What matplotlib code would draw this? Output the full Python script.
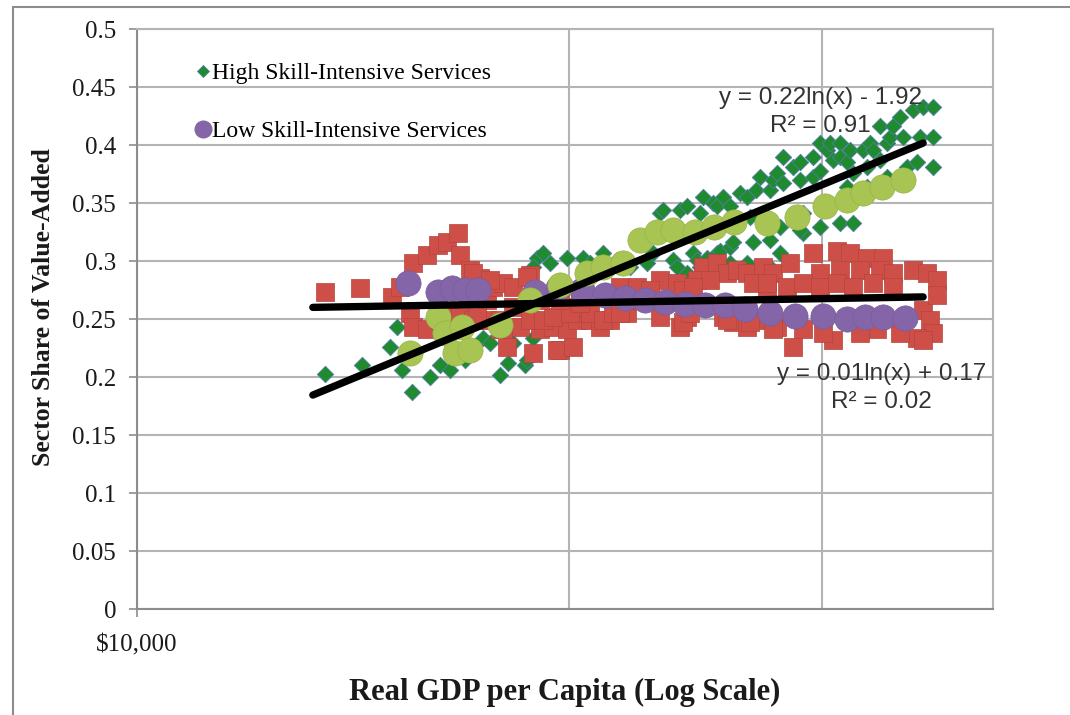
import numpy as np
import matplotlib.pyplot as plt
from matplotlib.lines import Line2D
from matplotlib.patches import Rectangle

# High skill-intensive services (green diamonds)
hs_gdp = [13520, 14350, 15010, 15180, 15300, 15550, 16000, 16260, 16530, 16930,
          17420, 17620, 17910, 18140, 18640, 18290, 18880, 18700, 19000, 19190,
          19400, 19940, 20460, 20690, 21130, 21610, 22060, 18880, 22670, 22890,
          23150, 23260, 23640, 23790, 23910, 24180, 24180, 24410, 24570, 24690,
          24690, 24810, 24970, 25210, 25210, 25370, 25370, 25490, 25610, 25900,
          25900, 25900, 26030, 26320, 26620, 26620, 26750, 26880, 27010, 27180,
          27310, 27490, 27620, 27620, 27620, 27750, 27930, 28070, 28210, 28210,
          28660, 28990, 28990, 29130, 29130, 29600, 29600, 29930, 29930, 29930,
          30270, 30420, 30570, 30910, 30910, 30910, 31260, 31260, 31410, 31560,
          31560, 32080, 32280, 32280, 32430, 32590, 32960, 32960, 33330, 33330,
          33490, 33650, 34030, 34200, 34410, 34750, 34970, 35140, 35310, 35880,
          35880, 35880, 28990, 28070]
hs_share = [0.203, 0.210, 0.226, 0.243, 0.206, 0.187, 0.200, 0.210, 0.206, 0.215,
            0.234, 0.229, 0.202, 0.212, 0.210, 0.229, 0.234, 0.215, 0.303, 0.307,
            0.298, 0.303, 0.303, 0.298, 0.307, 0.301, 0.295, 0.295, 0.298, 0.307,
            0.341, 0.344, 0.301, 0.295, 0.344, 0.347, 0.290, 0.307, 0.301, 0.341,
            0.295, 0.355, 0.303, 0.350, 0.295, 0.347, 0.307, 0.309, 0.355, 0.347,
            0.312, 0.298, 0.316, 0.359, 0.298, 0.355, 0.338, 0.316, 0.361, 0.372,
            0.341, 0.329, 0.361, 0.318, 0.295, 0.370, 0.376, 0.307, 0.390, 0.367,
            0.381, 0.385, 0.370, 0.341, 0.324, 0.372, 0.390, 0.402, 0.378, 0.329,
            0.396, 0.402, 0.387, 0.402, 0.390, 0.333, 0.385, 0.364, 0.396, 0.376,
            0.333, 0.396, 0.381, 0.364, 0.402, 0.396, 0.416, 0.387, 0.402, 0.372,
            0.407, 0.416, 0.424, 0.407, 0.381, 0.430, 0.385, 0.407, 0.433, 0.433,
            0.407, 0.381, 0.327, 0.329]

# Low skill-intensive services (purple circles)
ls_gdp = [15450, 16210, 16580, 16930, 17290, 18940, 19650, 20430, 21200, 21890,
          22600, 23340, 24100, 24890, 25690, 26540, 27620, 28750, 30070, 31260,
          32170, 33120, 34300]
ls_share = [0.281, 0.273, 0.277, 0.275, 0.275, 0.273, 0.277, 0.275, 0.271, 0.268,
            0.266, 0.265, 0.263, 0.262, 0.262, 0.259, 0.255, 0.253, 0.253, 0.250,
            0.252, 0.252, 0.251]

# unlabelled series: red squares
sq_gdp = [13520, 14300, 15060, 15250, 15580, 15930, 16210, 16450, 16740, 16790,
          17070, 17340, 15500, 15580, 15930, 16260, 16530, 16790, 17150, 17540,
          17710, 18000, 18290, 18790, 18290, 17910, 17540, 18110, 18880, 19100,
          19500, 19720, 19940, 20260, 20690, 20130, 17910, 17150, 17620, 18700,
          18490, 18000, 17260, 18790, 19190, 19620, 20130, 21030, 21370, 19500,
          20040, 20690, 23150, 23790, 24810, 25370, 25780, 26200, 26620, 27310,
          27750, 24570, 25090, 21710, 22310, 22780, 24020, 24410, 26880, 27490,
          21130, 21470, 21960, 23150, 23910, 24180, 25610, 26030, 26620, 27180,
          27930, 29600, 30770, 31410, 32280, 33120, 28520, 29930, 30910, 31920,
          32960, 33650, 34750, 35540, 36120, 27490, 28380, 29130, 29930, 30760,
          31560, 32590, 33650, 35310, 35710, 35880, 34970, 34030, 32800, 31920,
          30570, 30080, 29130, 28660, 35310, 24020, 24290, 25780, 26750, 27750,
          21710, 19100, 19720, 20360, 22420, 36120]
sq_share = [0.273, 0.277, 0.269, 0.278, 0.298, 0.305, 0.314, 0.316, 0.324, 0.305,
            0.292, 0.285, 0.255, 0.243, 0.241, 0.249, 0.255, 0.252, 0.249, 0.266,
            0.278, 0.281, 0.278, 0.288, 0.260, 0.241, 0.249, 0.226, 0.221, 0.241,
            0.243, 0.223, 0.241, 0.249, 0.249, 0.260, 0.249, 0.290, 0.284, 0.286,
            0.243, 0.241, 0.252, 0.249, 0.249, 0.223, 0.226, 0.243, 0.249, 0.252,
            0.255, 0.255, 0.284, 0.281, 0.295, 0.298, 0.290, 0.292, 0.290, 0.295,
            0.290, 0.284, 0.284, 0.278, 0.278, 0.275, 0.275, 0.278, 0.281, 0.278,
            0.249, 0.255, 0.255, 0.252, 0.243, 0.252, 0.252, 0.247, 0.243, 0.249,
            0.243, 0.307, 0.309, 0.307, 0.303, 0.303, 0.298, 0.290, 0.292, 0.292,
            0.292, 0.290, 0.292, 0.290, 0.284, 0.281, 0.278, 0.281, 0.278, 0.281,
            0.278, 0.281, 0.278, 0.258, 0.249, 0.238, 0.234, 0.238, 0.241, 0.238,
            0.232, 0.238, 0.241, 0.226, 0.232, 0.247, 0.255, 0.249, 0.247, 0.241,
            0.255, 0.266, 0.266, 0.264, 0.266, 0.271]

# unlabelled series: olive circles
ol_gdp = [15500, 16210, 16400, 16660, 16840, 17070, 17910, 18790, 19720, 20590,
          21130, 21820, 22420, 23040, 23650, 24490, 25250, 26070, 27490, 28850,
          30170, 31260, 32080, 33070, 34200]
ol_share = [0.221, 0.252, 0.238, 0.221, 0.243, 0.223, 0.245, 0.266, 0.279, 0.290,
            0.295, 0.298, 0.318, 0.325, 0.327, 0.325, 0.329, 0.334, 0.333, 0.338,
            0.347, 0.353, 0.359, 0.364, 0.370]

# trendlines y = a ln(x) + b
trend_range = [13260, 35310]
hs_trend = (0.2218, -1.921)
ls_trend = (0.0092, 0.1727)

yticks = [0, 0.05, 0.1, 0.15, 0.2, 0.25, 0.3, 0.35, 0.4, 0.45, 0.5]

serif = ['Liberation Serif', 'DejaVu Serif']
sans = ['Liberation Sans', 'DejaVu Sans']

fig = plt.figure(figsize=(10.7, 7.15), dpi=100)
ax = fig.add_axes([137 / 1070, 1 - 609 / 715, 856 / 1070, 580 / 715])

# outer chart border (right and bottom edges fall outside the picture)
fig.patches.append(Rectangle((13 / 1070, -0.05), 1.1, 1.05 - 7 / 715,
                             transform=fig.transFigure, fill=False,
                             edgecolor='#8c8c8c', lw=1.5))

ax.scatter(hs_gdp, hs_share, marker='D', s=70, color='#1f8a2e',
           edgecolor='#4f7fa8', linewidth=0.6, zorder=3)
ax.scatter(sq_gdp, sq_share, marker='s', s=160, color='#cd4f48',
           edgecolor='#b5433d', linewidth=0.5, zorder=4)
ax.scatter(ls_gdp, ls_share, marker='o', s=330, color='#8466a8',
           edgecolor='#7a5c9c', linewidth=0.5, zorder=5)
ax.scatter(ol_gdp, ol_share, marker='o', s=330, color='#a8c452',
           edgecolor='#98b448', linewidth=0.5, zorder=5)

xt = np.array(trend_range, dtype=float)
xt = np.exp(np.linspace(np.log(xt[0]), np.log(xt[1]), 50))
for a, b in (hs_trend, ls_trend):
    ax.plot(xt, a * np.log(xt) + b, color='black', lw=5.3,
            solid_capstyle='round', zorder=6)

ax.set_xscale('log')
ax.set_xlim(10000, 39500)
ax.set_ylim(0, 0.5)
ax.set_xticks([10000])
ax.set_xticklabels(['$10,000'])
ax.set_xticks([20000, 30000], minor=True)
ax.set_xticklabels([], minor=True)
ax.set_yticks(yticks)
ax.set_yticklabels([f'{v:g}' for v in yticks])
ax.tick_params(which='major', length=6, width=1.2, color='#8c8c8c',
               labelsize=18, labelcolor='#1a1a1a')
ax.tick_params(axis='y', pad=9)
ax.tick_params(axis='x', pad=12)
ax.tick_params(which='minor', length=0)
for lab in ax.get_xticklabels() + ax.get_yticklabels():
    lab.set_fontfamily(serif)

ax.grid(True, which='both', color='#b4b4b4', lw=1.5)
ax.set_axisbelow(True)
for s in ax.spines.values():
    s.set_color('#b4b4b4')
    s.set_linewidth(1.5)
ax.spines['left'].set_color('#8c8c8c')
ax.spines['bottom'].set_color('#8c8c8c')

ax.set_xlabel('Real GDP per Capita (Log Scale)', fontsize=22, fontweight='bold',
              family=serif, color='#1a1a1a')
ax.set_ylabel('Sector Share of Value-Added', fontsize=18.5, fontweight='bold',
              family=serif, color='#1a1a1a')
ax.xaxis.set_label_coords(0.5, -0.118)
ax.yaxis.set_label_coords(-0.096, 0.52)

ax.text(29960, 0.4284, 'y = 0.22ln(x) - 1.92\nR\u00b2 = 0.91',
        ha='center', va='center', fontsize=17.5, family=sans, color='#333333',
        linespacing=1.4, zorder=7)
ax.text(33010, 0.1905, 'y = 0.01ln(x) + 0.17\nR\u00b2 = 0.02',
        ha='center', va='center', fontsize=17.5, family=sans, color='#333333',
        linespacing=1.4, zorder=7)

handles = [Line2D([], [], ls='none', marker='D', ms=6.5, color='#1f8a2e',
                  mec='#4f7fa8', mew=0.6),
           Line2D([], [], ls='none', marker='o', ms=12, color='#8466a8')]
ax.legend(handles, ['High Skill-Intensive Services', 'Low Skill-Intensive Services'],
          loc='upper left', bbox_to_anchor=(0.055, 0.962), frameon=False,
          prop={'family': serif, 'size': 17}, handlelength=0.6,
          handletextpad=0.1, labelspacing=1.55, borderpad=0)

fig.savefig('out.png', dpi=100)
